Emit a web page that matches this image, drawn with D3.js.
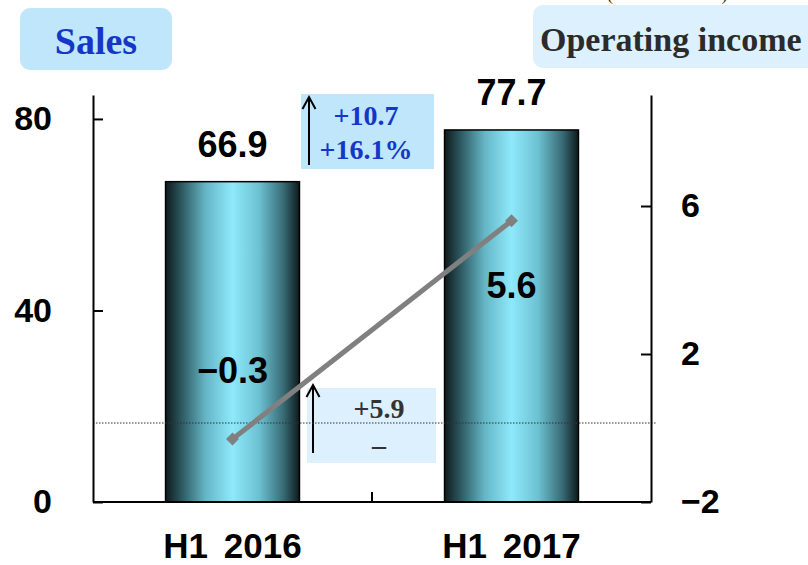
<!DOCTYPE html>
<html>
<head>
<meta charset="utf-8">
<script src="https://cdn.jsdelivr.net/npm/d3@7/dist/d3.min.js"></script>
<style>
body { margin: 0; background: #fff; }
</style>
</head>
<body>
<script>
var categories = ["H1 2016", "H1 2017"];
var sales = [66.9, 77.7];
var operatingIncome = [-0.3, 5.6];
var salesTicks = [0, 40, 80];
var incomeTicks = [-2, 2, 6];
var salesChange = ["+10.7", "+16.1%"];
var incomeChange = ["+5.9", "\u2013"];

var width = 808, height = 565;
var plotLeft = 93, plotRight = 651, plotTop = 95, plotBottom = 502;
var sansFont = "'Liberation Sans', Arial, sans-serif";
var serifFont = "'Liberation Serif', 'Times New Roman', serif";

var svg = d3.select("body").append("svg")
    .attr("width", width)
    .attr("height", height);

var x = d3.scaleBand().domain(categories).range([plotLeft, plotRight]).padding(0);
var y = d3.scaleLinear().domain([0, 85]).range([plotBottom, plotTop]);
var y2 = d3.scaleLinear().domain([-2, 9]).range([plotBottom, plotTop]);
var barWidth = x.bandwidth() * 0.48;
var cx = function(c) { return x(c) + x.bandwidth() / 2; };

// cylinder-like shading for the bars
var grad = svg.append("defs").append("linearGradient")
    .attr("id", "barGrad")
    .attr("x1", "0%").attr("x2", "100%").attr("y1", "0%").attr("y2", "0%");
[[0, "#0e1a1c"], [0.12, "#2d5961"], [0.3, "#65b6c6"], [0.5, "#8ee9fb"],
 [0.7, "#6cc1d1"], [0.88, "#386b75"], [1, "#0e1a1c"]].forEach(function(s) {
    grad.append("stop").attr("offset", s[0]).attr("stop-color", s[1]);
});

// unit text, mostly cut off at the top edge
svg.append("text")
    .attr("x", 607).attr("y", 0)
    .style("font-family", serifFont).style("font-size", "18px")
    .attr("fill", "#333")
    .text("(Billions of Yen)");

// title boxes
svg.append("rect")
    .attr("x", 20).attr("y", 8).attr("width", 152).attr("height", 62).attr("rx", 10)
    .attr("fill", "#bfe6fb");
svg.append("text")
    .attr("x", 96).attr("y", 54).attr("text-anchor", "middle")
    .style("font-family", serifFont).style("font-size", "38px").style("font-weight", "bold")
    .attr("fill", "#1437c8")
    .text("Sales");

svg.append("rect")
    .attr("x", 533).attr("y", 5).attr("width", 290).attr("height", 63).attr("rx", 10)
    .attr("fill", "#dcf1fd");
svg.append("text")
    .attr("x", 540).attr("y", 51)
    .style("font-family", serifFont).style("font-size", "34px").style("font-weight", "bold")
    .attr("fill", "#2b2b2b")
    .text("Operating income");

// bars
svg.selectAll(".bar")
    .data(categories)
    .enter().append("rect")
    .attr("class", "bar")
    .attr("x", function(c) { return cx(c) - barWidth / 2; })
    .attr("y", function(c, i) { return y(sales[i]); })
    .attr("width", barWidth)
    .attr("height", function(c, i) { return plotBottom - y(sales[i]); })
    .attr("fill", "url(#barGrad)")
    .attr("stroke", "#000")
    .attr("stroke-width", 1.5);

svg.selectAll(".barLabel")
    .data(categories)
    .enter().append("text")
    .attr("class", "barLabel")
    .attr("x", cx)
    .attr("y", function(c, i) { return y(sales[i]) - 25; })
    .attr("text-anchor", "middle")
    .style("font-family", sansFont).style("font-size", "36px").style("font-weight", "bold")
    .text(function(c, i) { return d3.format(".1f")(sales[i]); });

// change boxes
svg.append("rect")
    .attr("x", 301).attr("y", 94).attr("width", 133).attr("height", 75)
    .attr("fill", "#bfe6fb");
svg.append("rect")
    .attr("x", 307).attr("y", 388).attr("width", 129).attr("height", 75)
    .attr("fill", "#dcf1fd");

function upArrow(ax, yBottom, yTop) {
    svg.append("line")
        .attr("x1", ax).attr("x2", ax).attr("y1", yBottom).attr("y2", yTop + 1)
        .attr("stroke", "#000").attr("stroke-width", 2);
    svg.append("path")
        .attr("d", "M" + (ax - 6.5) + "," + (yTop + 12) + "L" + ax + "," + yTop + "L" + (ax + 6.5) + "," + (yTop + 12))
        .attr("fill", "none").attr("stroke", "#000").attr("stroke-width", 2);
}
upArrow(309, 165, 97);
upArrow(313, 453, 385);

svg.selectAll(".salesChange")
    .data(salesChange)
    .enter().append("text")
    .attr("class", "salesChange")
    .attr("x", 366)
    .attr("y", function(d, i) { return 125 + i * 34; })
    .attr("text-anchor", "middle")
    .style("font-family", serifFont).style("font-size", "28px").style("font-weight", "bold")
    .attr("fill", "#1437c8")
    .text(function(d) { return d; });

svg.selectAll(".incomeChange")
    .data(incomeChange)
    .enter().append("text")
    .attr("class", "incomeChange")
    .attr("x", 379)
    .attr("y", function(d, i) { return 418 + i * 36; })
    .attr("text-anchor", "middle")
    .style("font-family", serifFont).style("font-size", "28px").style("font-weight", "bold")
    .attr("fill", "#333")
    .text(function(d) { return d; });

// zero line of operating income
svg.append("line")
    .attr("x1", plotLeft).attr("x2", plotRight + 5)
    .attr("y1", y2(0) - 5).attr("y2", y2(0) - 5)
    .attr("stroke", "#333").attr("stroke-width", 1).attr("stroke-dasharray", "1.5,1.5");

// operating income line
var line = d3.line()
    .x(function(c) { return cx(c); })
    .y(function(c, i) { return y2(operatingIncome[i]); });

svg.append("path")
    .datum(categories)
    .attr("d", line)
    .attr("fill", "none")
    .attr("stroke", "#808080")
    .attr("stroke-width", 5);

svg.selectAll(".marker")
    .data(categories)
    .enter().append("path")
    .attr("class", "marker")
    .attr("d", d3.symbol(d3.symbolSquare, 85))
    .attr("transform", function(c, i) { return "translate(" + cx(c) + "," + y2(operatingIncome[i]) + ") rotate(45)"; })
    .attr("fill", "#808080");

var incomeLabelDy = [-56, 77];
svg.selectAll(".incomeLabel")
    .data(categories)
    .enter().append("text")
    .attr("class", "incomeLabel")
    .attr("x", function(c) { return cx(c); })
    .attr("y", function(c, i) { return y2(operatingIncome[i]) + incomeLabelDy[i]; })
    .attr("text-anchor", "middle")
    .style("font-family", sansFont).style("font-size", "36px").style("font-weight", "bold")
    .text(function(c, i) { return d3.format(".1f")(operatingIncome[i]); });

// axes
var leftAxis = svg.append("g")
    .attr("transform", "translate(" + plotLeft + ",0)")
    .call(d3.axisLeft(y).tickValues(salesTicks).tickSizeInner(-10).tickSizeOuter(0).tickPadding(41));

var rightAxis = svg.append("g")
    .attr("transform", "translate(" + plotRight + ",0)")
    .call(d3.axisRight(y2).tickValues(incomeTicks).tickSizeInner(-10).tickSizeOuter(0).tickPadding(30));

var bottomAxis = svg.append("g")
    .attr("transform", "translate(0," + plotBottom + ")")
    .call(d3.axisBottom(x).tickSize(0).tickPadding(31));
bottomAxis.select(".domain").remove();

svg.append("line")
    .attr("x1", plotLeft).attr("x2", plotRight).attr("y1", plotBottom).attr("y2", plotBottom)
    .attr("stroke", "#000").attr("stroke-width", 2);
svg.append("line")
    .attr("x1", x(categories[1])).attr("x2", x(categories[1]))
    .attr("y1", plotBottom).attr("y2", plotBottom - 10)
    .attr("stroke", "#000").attr("stroke-width", 2);

[leftAxis, rightAxis, bottomAxis].forEach(function(g) {
    g.selectAll(".domain, .tick line").attr("stroke", "#000").attr("stroke-width", 2);
    g.selectAll("text")
        .attr("fill", "#000")
        .style("font-family", sansFont)
        .style("font-weight", "bold")
        .style("font-size", "34px");
});
bottomAxis.selectAll("text").style("font-size", "35px").style("word-spacing", "6px");
</script>
</body>
</html>
